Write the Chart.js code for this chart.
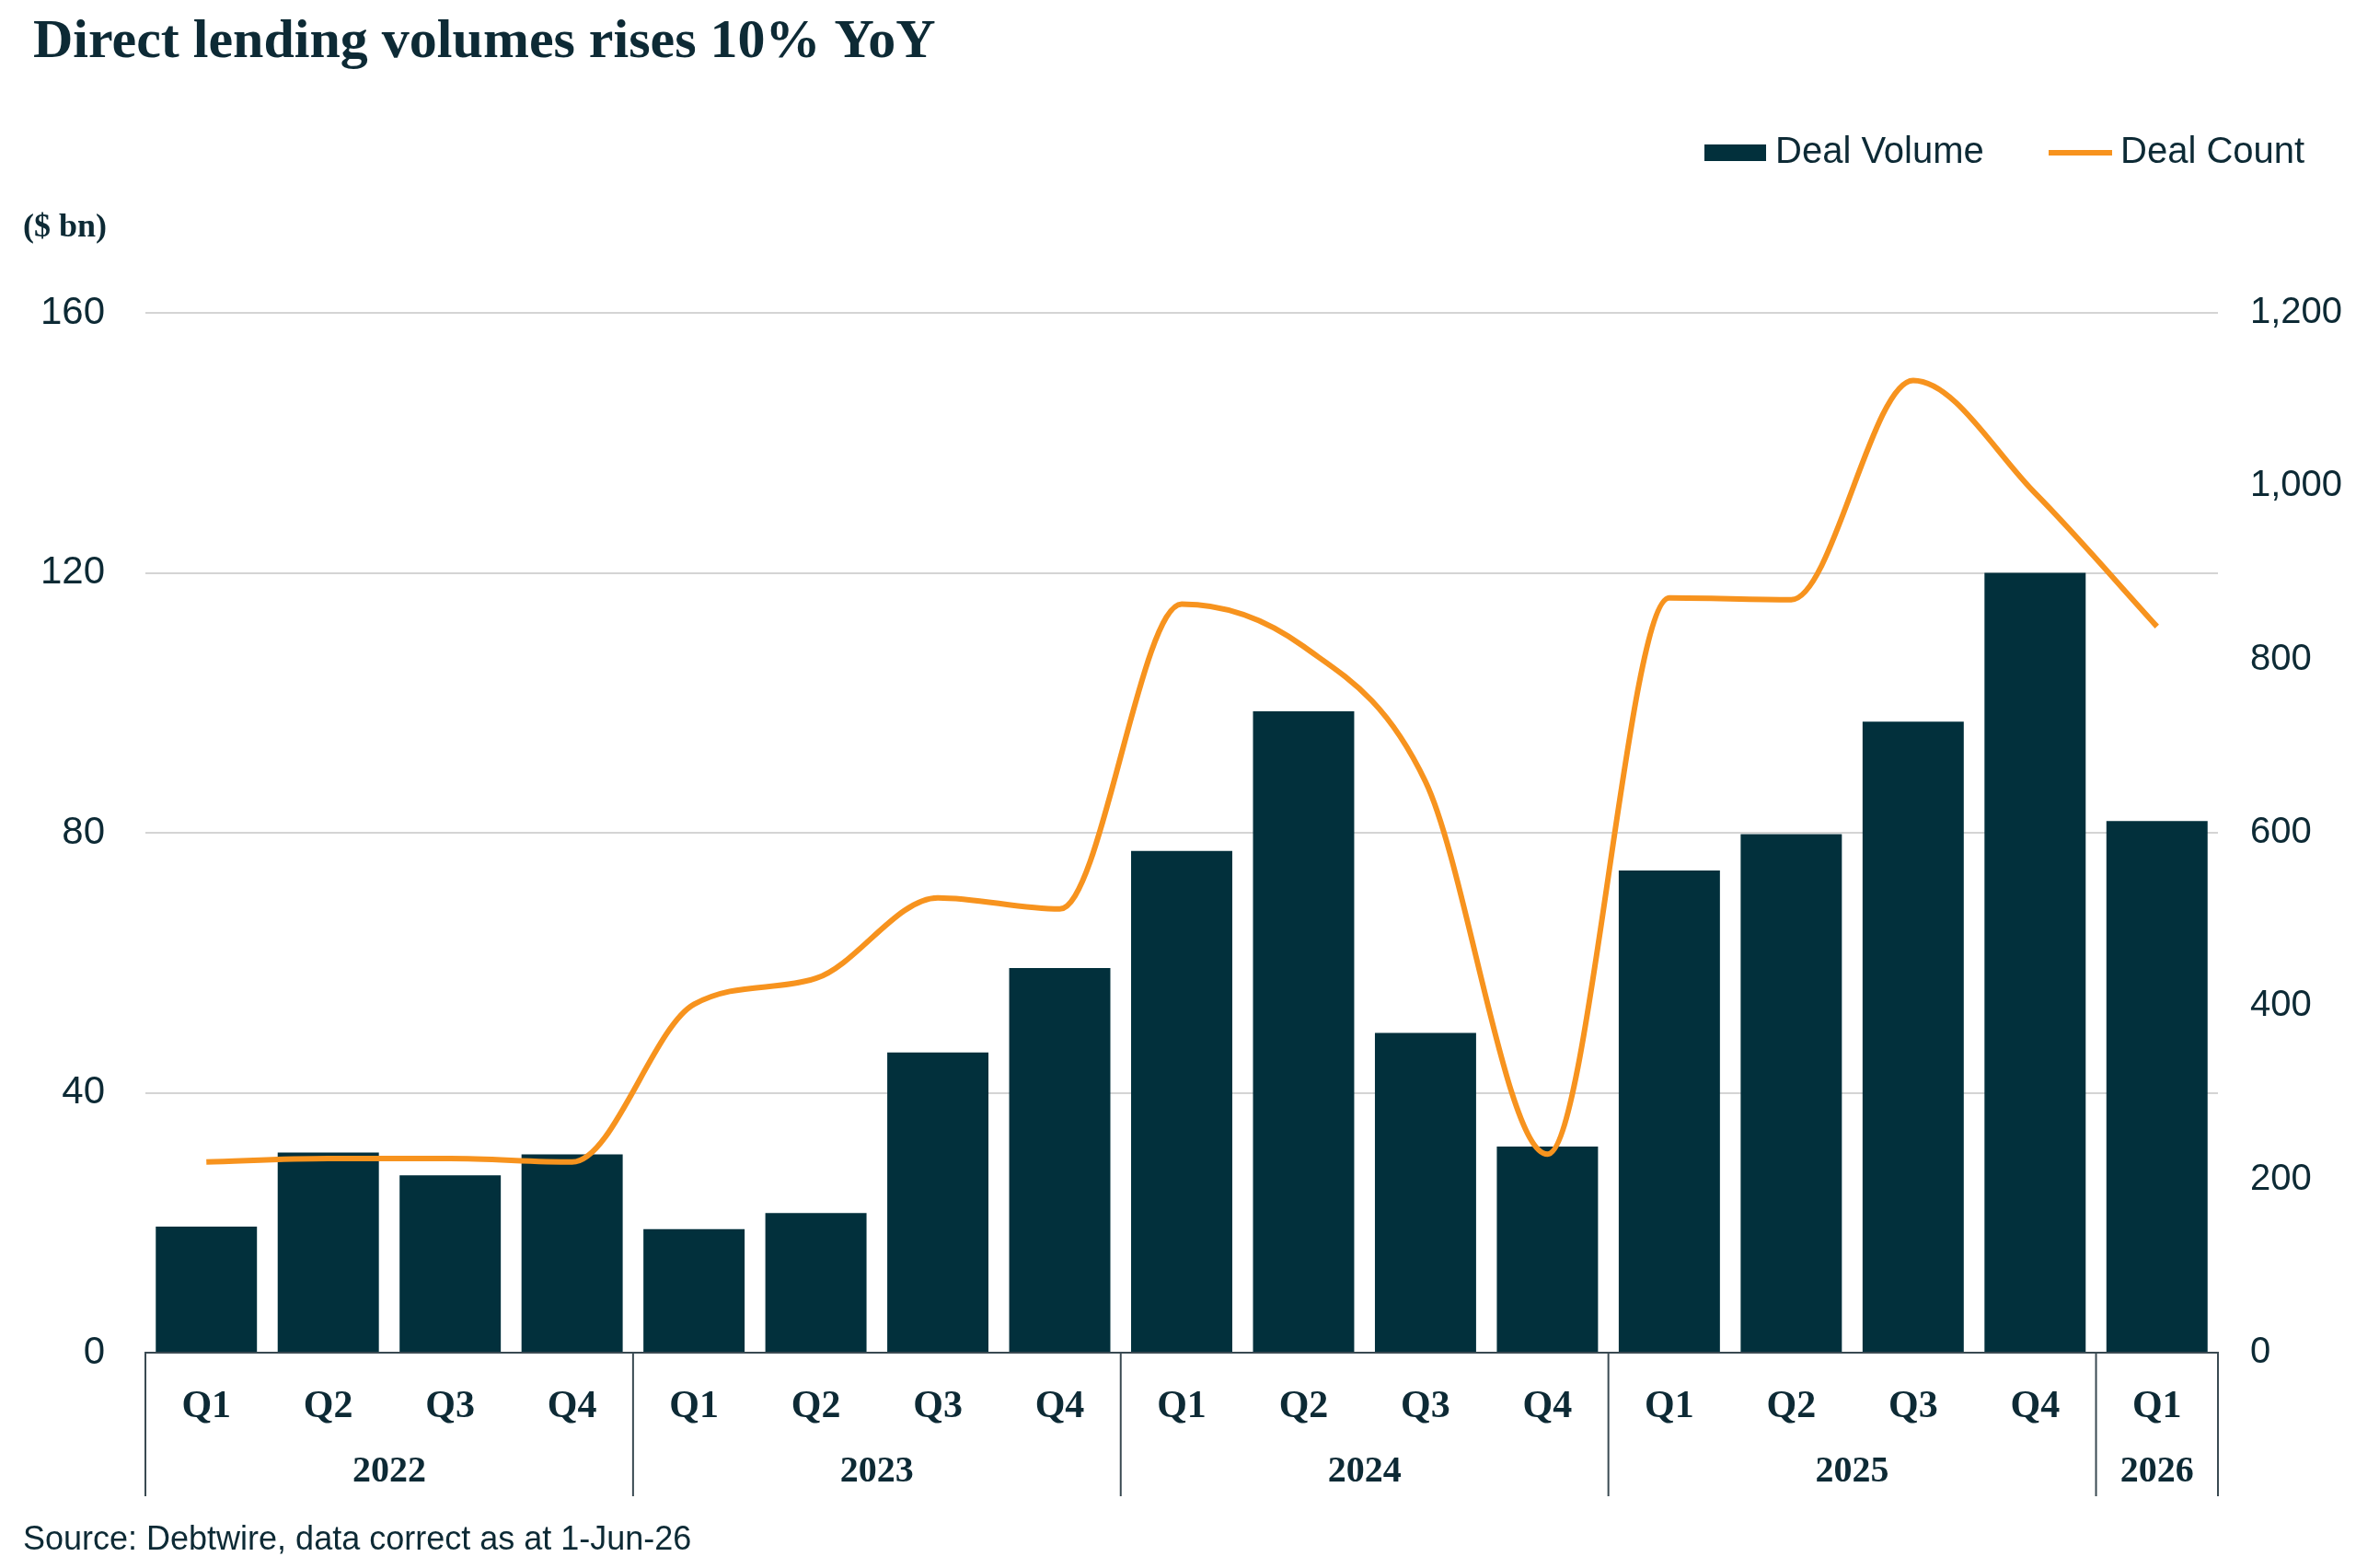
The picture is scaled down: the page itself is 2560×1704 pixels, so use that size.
<!DOCTYPE html>
<html><head><meta charset="utf-8">
<script src="https://cdn.jsdelivr.net/npm/chart.js@4"></script>
<style>html,body{margin:0;padding:0;background:#fff}canvas{display:block}</style>
</head><body>
<canvas id="c" width="2560" height="1704"></canvas>
<script>
const quarters = ['Q1','Q2','Q3','Q4','Q1','Q2','Q3','Q4','Q1','Q2','Q3','Q4','Q1','Q2','Q3','Q4','Q1'];
const years = ['2022','2023','2024','2025','2026'];
const yearSpans = [4,4,4,4,1];
const dealVolume = [19.4,30.8,27.3,30.5,19.0,21.5,46.2,59.2,77.2,98.7,49.2,31.7,74.2,79.8,97.1,120,81.8];
const dealCount = [220,224,224,220,402,432,525,512,864,815,659,229,871,869,1122,992,838];
const NAVY='#02303c', ORANGE='#f7931e', TXT='#0d2a35';
const serif='"Liberation Serif","DejaVu Serif",serif', sans='"Liberation Sans",Arial,sans-serif';

const deco = {
  id:'deco',
  afterDraw(ch){
    const ctx=ch.ctx, x=ch.scales.x, a=ch.chartArea;
    ctx.save();
    ctx.fillStyle=TXT; ctx.textBaseline='middle';
    ctx.font='bold 60px '+serif; ctx.textAlign='left';
    ctx.fillText('Direct lending volumes rises 10% YoY',36,46);
    ctx.font='bold 36px '+serif; ctx.fillText('($ bn)',25,248);
    ctx.font='36px '+sans; ctx.fillText('Source: Debtwire, data correct as at 1-Jun-26',25,1674);
    // legend
    ctx.fillStyle=NAVY; ctx.fillRect(1852,157,67,18);
    ctx.fillStyle=TXT; ctx.font='40px '+sans; ctx.fillText('Deal Volume',1929,166);
    ctx.strokeStyle=ORANGE; ctx.lineWidth=6; ctx.beginPath(); ctx.moveTo(2226,166); ctx.lineTo(2295,166); ctx.stroke();
    ctx.fillText('Deal Count',2304,166);
    // year groups
    const step = x.getPixelForValue(1)-x.getPixelForValue(0);
    ctx.strokeStyle='#3a4a52'; ctx.lineWidth=2;
    let idx=0;
    const bottom=a.bottom+156;
    const edge=i=>x.getPixelForValue(i)-step/2;
    const line=px=>{ctx.beginPath();ctx.moveTo(px,a.bottom);ctx.lineTo(px,bottom);ctx.stroke();};
    line(edge(0));
    ctx.font='bold 40px '+serif; ctx.textAlign='center'; ctx.fillStyle=TXT;
    years.forEach((y,k)=>{
      const s=edge(idx), e=edge(idx+yearSpans[k]);
      line(e);
      ctx.fillText(y,(s+e)/2,a.bottom+130);
      idx+=yearSpans[k];
    });
    ctx.restore();
  }
};

new Chart(document.getElementById('c'),{
  data:{labels:quarters,datasets:[
    {type:'line',label:'Deal Count',data:dealCount,yAxisID:'y1',borderColor:ORANGE,borderWidth:6,pointRadius:0,tension:0.4,cubicInterpolationMode:'monotone',order:0},
    {type:'bar',label:'Deal Volume',data:dealVolume,yAxisID:'y',backgroundColor:NAVY,categoryPercentage:1,barPercentage:0.83,order:1}
  ]},
  options:{
    responsive:false,animation:false,devicePixelRatio:1,
    layout:{padding:{top:340,left:0,right:0,bottom:0}},
    plugins:{legend:{display:false},tooltip:{enabled:false}},
    scales:{
      x:{grid:{display:false},border:{color:'#3a4a52',width:2},
        ticks:{color:TXT,font:{family:serif,size:42,weight:'bold'},padding:26,maxRotation:0,autoSkip:false},
        afterFit(s){s.height=234;}},
      y:{position:'left',min:0,max:160,
        ticks:{stepSize:40,color:TXT,font:{family:sans,size:42},padding:44},
        grid:{color:'#d4d4d4',lineWidth:2,drawTicks:false},border:{display:false},
        afterFit(s){s.width=158;}},
      y1:{position:'right',min:0,max:1200,
        ticks:{stepSize:200,color:TXT,font:{family:sans,size:40},padding:35},
        grid:{display:false,drawTicks:false},border:{display:false},
        afterFit(s){s.width=150;}}
    }
  },
  plugins:[deco]
});
</script>
</body></html>
